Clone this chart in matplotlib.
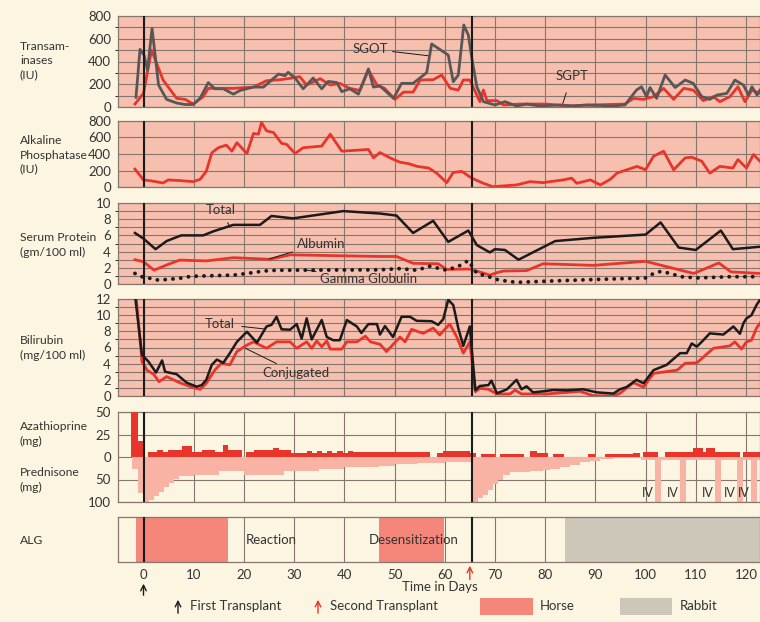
import numpy as np
import matplotlib.pyplot as plt
from matplotlib.patches import Rectangle, FancyArrowPatch

plt.rcParams['font.family'] = ['Lato', 'DejaVu Sans']

# ---- data (day, value) ----
sgot = [(-1.5, 85), (-0.7, 507), (0.1, 457), (0.8, 325), (1.7, 692), (3.0, 193), (4.6, 67),
        (6.6, 35), (8.3, 22), (9.9, 22), (11.3, 80), (12.9, 214), (14.2, 160), (15.9, 160),
        (17.9, 113), (19.2, 145), (21.9, 175), (23.9, 175), (25.2, 225), (26.9, 290), (28.2, 275),
        (28.8, 305), (30.2, 255), (31.8, 160), (33.8, 255), (35.5, 160), (36.8, 225), (38.5, 215),
        (39.5, 135), (41.1, 160), (42.8, 113), (44.8, 335), (45.8, 175), (47.1, 185), (49.8, 76),
        (51.4, 208), (53.7, 208), (56.4, 302), (57.4, 554), (60.7, 457), (61.7, 222), (62.7, 281),
        (63.8, 721), (64.7, 633), (65.4, 428), (66.4, 178), (67.7, 47), (70.0, 18), (72.0, 47),
        (74.3, 9), (76.3, 26), (79.0, 9), (83.0, 18), (85.6, 9), (88.3, 18), (93.6, 9), (95.9, 18),
        (98.2, 149), (99.2, 178), (100.2, 91), (100.9, 171), (102.2, 76), (103.9, 281), (105.9, 171),
        (107.9, 237), (109.5, 208), (111.2, 91), (112.8, 67), (114.2, 105), (116.2, 120),
        (117.8, 237), (119.5, 193), (120.5, 105), (121.2, 178), (122.2, 105), (122.8, 149)]
sgpt = [(-1.7, 26), (0.0, 120), (1.6, 500), (3.9, 237), (6.6, 76), (8.3, 67), (9.9, 26),
        (11.9, 91), (12.9, 164), (14.6, 164), (17.9, 164), (21.9, 175), (24.5, 231), (27.2, 240),
        (29.2, 252), (31.1, 267), (32.5, 193), (35.2, 249), (37.2, 193), (39.1, 208), (41.1, 164),
        (43.1, 146), (44.8, 325), (46.5, 193), (48.0, 164), (50.1, 67), (51.8, 131), (53.7, 131),
        (55.1, 237), (57.7, 240), (59.4, 281), (61.1, 164), (62.7, 149), (63.7, 237), (65.0, 237),
        (66.4, 105), (67.0, 47), (67.7, 149), (68.4, 56), (70.4, 56), (71.7, 18), (75.0, 26),
        (80.3, 26), (84.3, 9), (89.6, 18), (95.9, 26), (97.6, 76), (99.6, 67), (101.6, 91),
        (103.6, 164), (105.6, 67), (107.6, 164), (109.5, 149), (111.5, 56), (113.5, 91),
        (114.8, 47), (116.8, 91), (118.4, 178), (119.8, 47), (121.2, 149), (122.8, 120)]
alk_phos = [(-1.7, 217), (0.0, 86), (1.6, 74), (3.9, 49), (4.9, 86), (7.2, 78), (9.9, 65),
            (11.3, 94), (12.5, 189), (13.6, 414), (14.9, 476), (16.5, 508), (17.6, 434), (18.6, 537),
            (20.6, 406), (21.9, 648), (22.9, 640), (23.5, 783), (24.5, 681), (25.9, 660), (27.5, 529),
            (28.5, 517), (30.2, 406), (31.8, 476), (35.5, 496), (37.2, 640), (39.5, 434), (44.8, 455),
            (45.8, 353), (47.1, 418), (49.1, 353), (51.1, 300), (52.8, 283), (54.5, 250), (56.8, 230),
            (58.4, 168), (60.4, 53), (61.7, 176), (63.4, 189), (65.4, 107), (67.7, 45), (69.6, 4),
            (74.3, 25), (77.0, 65), (79.6, 53), (83.6, 86), (85.3, 107), (86.3, 45), (89.0, 86),
            (91.0, 25), (93.0, 94), (94.3, 168), (96.3, 209), (98.3, 250), (100.0, 209), (101.6, 373),
            (103.6, 434), (105.6, 209), (107.9, 353), (109.2, 361), (111.2, 312), (112.8, 168),
            (114.8, 250), (117.4, 230), (118.4, 332), (120.1, 230), (121.5, 394), (122.8, 312)]
protein_total = [(-1.7, 6.3), (0.0, 5.6), (2.4, 4.3), (4.6, 5.3), (7.5, 6.0), (11.9, 6.0), (13.9, 6.5),
                 (17.9, 7.3), (23.2, 7.3), (25.5, 8.4), (29.8, 8.1), (39.8, 9.0), (47.1, 8.7),
                 (50.4, 8.45), (53.7, 6.3), (57.7, 7.8), (60.7, 5.2), (64.7, 6.6), (66.4, 4.8),
                 (69.0, 3.9), (70.0, 4.3), (72.0, 4.2), (74.7, 3.0), (82.0, 5.3), (89.6, 5.7),
                 (100.0, 6.1), (103.0, 7.6), (106.6, 4.5), (110.0, 4.2), (115.0, 6.6), (117.4, 4.3),
                 (122.8, 4.6)]
albumin = [(-1.7, 3.0), (0.0, 2.75), (2.1, 1.7), (4.6, 2.35), (7.2, 2.95), (12.5, 2.85), (17.9, 3.25),
           (25.2, 3.05), (29.2, 3.6), (47.1, 3.4), (50.4, 3.4), (53.7, 2.55), (58.7, 2.5), (60.4, 1.8),
           (65.0, 1.85), (69.0, 1.1), (70.4, 1.4), (71.7, 1.6), (76.3, 1.65), (79.6, 2.5), (89.6, 2.3),
           (100.0, 2.8), (109.6, 1.3), (114.6, 2.6), (117.0, 1.5), (122.8, 1.3)]
gamma_globulin = [(-1.7, 1.3), (-0.3, 0.9), (1.3, 0.7), (2.6, 0.5), (4.6, 0.55), (7.2, 0.7), (9.5, 0.95),
                  (12.5, 1.0), (17.9, 1.1), (20.6, 1.3), (23.9, 1.6), (26.5, 1.7), (47.1, 1.75),
                  (51.1, 1.9), (54.4, 1.7), (57.1, 2.2), (59.0, 1.9), (60.4, 1.7), (63.1, 2.3),
                  (64.7, 2.9), (66.4, 1.3), (68.4, 1.0), (70.0, 0.6), (72.4, 0.35), (74.3, 0.2),
                  (80.3, 0.35), (89.6, 0.55), (100.0, 0.75), (101.6, 1.3), (103.0, 1.55), (105.0, 1.3),
                  (107.0, 0.9), (110.3, 0.75), (117.0, 0.9), (122.8, 0.9)]
bili_total = [(-1.7, 12.5), (-0.3, 5.1), (1.0, 4.25), (2.5, 2.9), (3.7, 4.4), (4.3, 3.0), (6.6, 2.7),
              (8.6, 1.65), (10.6, 1.15), (11.6, 1.35), (12.5, 2.0), (13.6, 3.85), (14.6, 4.5),
              (15.9, 4.1), (17.2, 5.3), (18.6, 6.7), (20.6, 7.95), (22.6, 6.6), (24.5, 8.6), (25.5, 8.8),
              (26.5, 9.8), (27.5, 8.25), (29.2, 8.2), (30.5, 8.9), (31.5, 7.1), (32.5, 9.6), (33.5, 7.0),
              (35.5, 9.4), (36.5, 7.3), (37.8, 6.9), (39.1, 6.9), (40.5, 9.4), (42.5, 8.6), (43.4, 7.8),
              (44.8, 8.9), (46.5, 8.9), (47.1, 7.6), (48.1, 8.65), (49.7, 7.3), (51.4, 9.8), (53.1, 9.8),
              (54.4, 9.3), (57.4, 9.25), (58.7, 8.8), (59.7, 9.5), (60.7, 11.9), (61.7, 11.25),
              (62.7, 8.4), (63.7, 6.2), (65.0, 8.6), (66.1, 0.74), (67.0, 1.24), (68.7, 1.35),
              (69.3, 1.9), (70.4, 0.33), (72.4, 0.83), (74.3, 2.0), (75.3, 0.83), (76.3, 1.2),
              (77.6, 0.45), (79.6, 0.58), (81.6, 0.74), (84.3, 0.7), (87.6, 0.83), (90.3, 0.45),
              (93.6, 0.3), (94.9, 0.83), (96.2, 1.1), (98.2, 2.0), (99.6, 1.57), (101.6, 3.2),
              (104.2, 3.85), (106.9, 5.3), (108.2, 5.3), (109.2, 6.5), (110.2, 6.1), (111.2, 6.7),
              (112.8, 7.75), (115.5, 7.6), (117.5, 8.6), (118.8, 7.7), (119.5, 9.0), (120.1, 9.6),
              (121.1, 10.0), (122.1, 11.25), (122.8, 11.9)]
bili_conj = [(-1.5, 12.5), (-0.3, 4.25), (0.7, 3.2), (2.0, 2.7), (3.1, 1.77), (4.6, 2.4), (7.2, 1.65),
             (9.9, 1.03), (11.3, 0.83), (12.5, 1.57), (14.2, 3.2), (15.5, 4.05), (17.2, 3.85),
             (18.6, 5.5), (20.6, 6.3), (21.9, 6.7), (24.5, 5.9), (26.5, 6.7), (29.2, 6.7), (30.5, 5.9),
             (32.5, 6.7), (33.5, 5.9), (34.5, 6.8), (35.5, 6.1), (36.5, 6.8), (37.2, 5.8), (39.5, 5.8),
             (40.5, 6.7), (42.5, 6.7), (44.2, 7.4), (45.2, 6.7), (47.1, 6.4), (48.4, 5.5), (51.1, 7.3),
             (52.1, 6.7), (53.4, 8.25), (55.7, 7.75), (57.7, 8.4), (59.0, 7.55), (61.0, 8.9),
             (62.4, 7.3), (63.7, 5.3), (65.0, 6.7), (66.1, 0.53), (67.0, 0.95), (68.7, 0.83),
             (70.4, 0.25), (73.0, 0.25), (74.0, 0.74), (75.3, 0.25), (80.3, 0.25), (86.9, 0.58),
             (89.6, 0.04), (93.6, 0.0), (94.9, 0.33), (97.6, 1.65), (99.6, 1.1), (101.6, 2.8),
             (106.3, 3.2), (107.9, 4.05), (110.2, 4.1), (111.5, 4.8), (113.5, 5.9), (116.8, 6.2),
             (117.8, 6.7), (119.1, 5.8), (120.1, 6.7), (121.1, 6.9), (122.1, 8.4), (122.8, 9.0)]

# drugs: (start day, end day, mg)
azathioprine = [(-2.4, -1.0, 50), (-1.0, 0.0, 18), (0.8, 2.6, 6), (2.6, 3.9, 8), (3.9, 4.9, 6),
                (4.9, 7.6, 8), (7.6, 9.7, 12), (9.7, 11.6, 6), (11.6, 14.2, 8), (14.2, 15.9, 6),
                (15.9, 16.9, 13), (16.9, 19.7, 8), (20.5, 22.0, 6), (22.0, 25.7, 8), (25.7, 27.0, 10),
                (27.0, 29.3, 8), (29.3, 32.6, 5), (32.6, 33.6, 7), (33.6, 34.6, 5), (34.6, 35.6, 7),
                (35.6, 36.6, 5), (36.6, 37.6, 7), (37.6, 38.5, 5), (38.5, 39.8, 7), (39.8, 40.8, 5),
                (40.8, 41.8, 7), (41.8, 57.0, 6), (58.4, 59.7, 5), (59.7, 65.0, 7), (65.0, 66.3, 4),
                (67.3, 70.0, 3), (71.0, 75.7, 3), (77.0, 78.3, 7), (78.3, 80.6, 5), (81.6, 83.7, 3),
                (88.6, 89.9, 3), (91.9, 97.5, 3), (97.5, 98.8, 5), (99.5, 102.5, 6), (103.8, 109.5, 6),
                (109.5, 111.5, 10), (111.5, 112.1, 6), (112.1, 113.8, 10), (113.8, 118.8, 6),
                (119.5, 123.0, 6)]
prednisone = [(-2.3, -1.1, 27), (-1.1, 0.0, 80), (0.0, 1.0, 100), (1.0, 2.0, 96), (2.0, 3.0, 87),
              (3.0, 4.0, 78), (4.0, 5.0, 67), (5.0, 6.0, 57), (6.0, 7.0, 48), (7.0, 10.0, 42),
              (10.0, 15.0, 39), (15.0, 20.0, 32), (20.0, 28.0, 39), (28.0, 35.0, 32), (35.0, 40.0, 27),
              (40.0, 47.0, 23), (47.0, 50.0, 20), (50.0, 54.5, 16), (54.5, 60.0, 14), (60.0, 65.6, 11),
              (65.6, 66.6, 100), (66.6, 67.6, 92), (67.6, 68.6, 85), (68.6, 69.6, 74), (69.6, 70.6, 59),
              (70.6, 71.6, 50), (71.6, 73.0, 41), (73.0, 75.7, 34), (75.7, 77.0, 33), (77.0, 79.6, 30),
              (79.6, 81.0, 28), (81.0, 83.0, 26), (83.0, 85.0, 23), (85.0, 87.0, 18), (87.0, 89.0, 12),
              (89.0, 91.0, 9), (91.0, 93.6, 5), (93.6, 99.0, 3), (99.0, 123.0, 6)]
iv_days = [102.5, 107.5, 114.5, 118.8, 121.7]
iv_mg = 100

horse = [(-1.5, 16.9), (47.0, 59.9)]
rabbit = [(84.0, 124.0)]
first_tx, second_tx = 0, 65.5

# ---- colours ----
CREAM = '#fbf5e2'
PINK = '#f7bfae'
RED = '#e8352b'
GREY = '#5b5656'
BLACK = '#1c1a1a'
GRID = '#85776f'
TXT = '#333333'
PRED = '#f8b3a4'
HORSE = '#f4867a'
RABBIT = '#ccc7b8'

W, H = 760, 622
fig = plt.figure(figsize=(W / 100, H / 100), dpi=100)
fig.patch.set_facecolor(CREAM)
XL = (-5.08, 122.8)


def panel(top, bottom, face):
    ax = fig.add_axes([118 / W, 1 - bottom / H, 1 - 118 / W, (bottom - top) / H])
    ax.set_facecolor(face)
    ax.set_xlim(*XL)
    ax.set_xticks(np.arange(0, 130, 10))
    ax.tick_params(length=0, labelsize=9.5, pad=5, colors=TXT)
    ax.tick_params(axis='x', labelbottom=False)
    ax.grid(True, which='both', color=GRID, lw=0.8)
    ax.set_axisbelow(True)
    for s in ax.spines.values():
        s.set_color(GRID)
        s.set_linewidth(0.9)
    for d in (first_tx, second_tx):
        ax.axvline(d, color=BLACK, lw=1.5, zorder=5)
    return ax


def leader():
    return dict(arrowstyle='-', color=BLACK, lw=0.7, shrinkA=1, shrinkB=0)


# Transaminases
ax1 = panel(16, 107, PINK)
ax1.set_ylim(0, 800)
ax1.set_yticks([0, 200, 400, 600, 800])
ax1.set_yticks(np.arange(100, 800, 200), minor=True)
d, v = np.array(sgpt).T
ax1.plot(d, v, color=RED, lw=2, zorder=3)
d, v = np.array(sgot).T
ax1.plot(d, v, color=GREY, lw=2, zorder=4)
ax1.annotate('SGOT', xy=(56.8, 450), xytext=(48.8, 510), fontsize=9.5, va='center', ha='right',
             color=TXT, arrowprops=leader())
ax1.annotate('SGPT', xy=(83.5, 30), xytext=(85.3, 272), fontsize=9.5, va='center', ha='center',
             color=TXT, arrowprops=dict(leader(), shrinkA=6))

# Alkaline phosphatase
ax2 = panel(121, 187, PINK)
ax2.set_ylim(0, 800)
ax2.set_yticks([0, 200, 400, 600, 800])
d, v = np.array(alk_phos).T
ax2.plot(d, v, color=RED, lw=2, zorder=3)

# Serum protein
ax3 = panel(203, 284, PINK)
ax3.set_ylim(0, 10)
ax3.set_yticks([0, 2, 4, 6, 8, 10])
ax3.set_yticks(np.arange(1, 10, 2), minor=True)
d, v = np.array(protein_total).T
ax3.plot(d, v, color=BLACK, lw=1.8, zorder=4)
d, v = np.array(albumin).T
ax3.plot(d, v, color=RED, lw=2, zorder=3)
d, v = np.array(gamma_globulin).T
ax3.plot(d, v, color=BLACK, lw=2.8, linestyle=(0, (0.01, 2.0)), dash_capstyle='round', zorder=4)
ax3.annotate('Total', xy=(17.2, 7.1), xytext=(15.3, 9.1), fontsize=9.5, ha='center', va='center',
             color=TXT, arrowprops=dict(leader(), shrinkA=3))
ax3.annotate('Albumin', xy=(25, 3.1), xytext=(30.5, 5.0), fontsize=9.5, ha='left', va='center',
             color=TXT, arrowprops=leader())
ax3.annotate('Gamma Globulin', xy=(32, 1.75), xytext=(35.2, 0.6), fontsize=9.5, ha='left',
             va='center', color=TXT, arrowprops=leader())

# Bilirubin
ax4 = panel(299, 396, PINK)
ax4.set_ylim(0, 12)
ax4.set_yticks(np.arange(0, 13, 2))
ax4.set_yticks(np.arange(1, 12, 2), minor=True)
d, v = np.array(bili_conj).T
ax4.plot(d, v, color=RED, lw=2, zorder=3)
d, v = np.array(bili_total).T
ax4.plot(d, v, color=BLACK, lw=1.8, zorder=4)
ax4.annotate('Total', xy=(24, 8.3), xytext=(15.2, 8.9), fontsize=9.5, ha='center', va='center',
             color=TXT, arrowprops=dict(leader(), shrinkA=3))
ax4.annotate('Conjugated', xy=(20.3, 5.9), xytext=(23.6, 2.85), fontsize=9.5, ha='left',
             va='center', color=TXT, arrowprops=leader())

# Azathioprine (up, 25 mg per unit) / Prednisone (down, 50 mg per unit)
ax5 = panel(412, 502, CREAM)
ax5.set_ylim(-2, 2)
ax5.set_yticks([2, 1, 0, -1, -2])
ax5.set_yticklabels(['50', '25', '0', '50', '100'])
for a, b, mg in prednisone:
    ax5.fill_between([a, b], 0, -mg / 50, color=PRED, lw=0, zorder=2)
for d in iv_days:
    ax5.fill_between([d - 0.6, d + 0.6], 0, -iv_mg / 50, color=PRED, lw=0, zorder=2)
for a, b, mg in azathioprine:
    ax5.fill_between([a, b], 0, min(mg, 50) / 25, color=RED, lw=0, zorder=3)
for d in iv_days:
    ax5.text(d - 0.9, -1.62, 'IV', fontsize=9, ha='right', va='center', color=TXT)

# ALG
ax6 = panel(517, 562, CREAM)
ax6.set_ylim(0, 1)
ax6.set_yticks([])
ax6.tick_params(axis='x', labelbottom=True, pad=5)
for a, b in horse:
    ax6.axvspan(a, b, color=HORSE, lw=0, zorder=1)
for a, b in rabbit:
    ax6.axvspan(a, b, color=RABBIT, lw=0, zorder=1)
ax6.text(20.3, 0.5, 'Reaction', fontsize=9.5, va='center', ha='left', color=TXT, zorder=6)
ax6.text(53.8, 0.5, 'Desensitization', fontsize=9.5, va='center', ha='center', color=TXT, zorder=6)

# transplant arrows below the axis
ax6.annotate('', xy=(first_tx, -0.42), xytext=(first_tx, -0.8),
             xycoords=ax6.get_xaxis_transform(),
             arrowprops=dict(arrowstyle='->', color=BLACK, lw=1.0))
ax6.annotate('', xy=(second_tx - 0.5, -0.02), xytext=(second_tx - 0.5, -0.45),
             xycoords=ax6.get_xaxis_transform(),
             arrowprops=dict(arrowstyle='->', color=RED, lw=1.0))
fig.text(440 / W, 1 - 587 / H, 'Time in Days', fontsize=9.5, ha='center', va='center', color=TXT)

# left labels
labels = [('Transam-\ninases\n(IU)', 61), ('Alkaline\nPhosphatase\n(IU)', 155),
          ('Serum Protein\n(gm/100 ml)', 245), ('Bilirubin\n(mg/100 ml)', 348),
          ('Azathioprine\n(mg)', 434), ('Prednisone\n(mg)', 480), ('ALG', 540)]
for txt, y in labels:
    fig.text(20 / W, 1 - y / H, txt, fontsize=8.7, ha='left', va='center', color=TXT,
             linespacing=1.35)

# legend
ly = 1 - 606 / H
fig.patches.append(Rectangle((480 / W, 1 - 615 / H), 53 / W, 17 / H, transform=fig.transFigure,
                             color=HORSE, lw=0))
fig.patches.append(Rectangle((620 / W, 1 - 615 / H), 52 / W, 17 / H, transform=fig.transFigure,
                             color=RABBIT, lw=0))
fig.text(540 / W, ly, 'Horse', fontsize=9.5, va='center', color=TXT)
fig.text(680 / W, ly, 'Rabbit', fontsize=9.5, va='center', color=TXT)
fig.text(190 / W, ly, 'First Transplant', fontsize=9.5, va='center', color=TXT)
fig.text(330 / W, ly, 'Second Transplant', fontsize=9.5, va='center', color=TXT)
for x, c in ((178, BLACK), (318, RED)):
    fig.patches.append(FancyArrowPatch((x / W, 1 - 616 / H), (x / W, 1 - 597 / H),
                                       transform=fig.transFigure, arrowstyle='->',
                                       mutation_scale=10, color=c, lw=1.0))

fig.savefig('out.png', dpi=100, facecolor=CREAM)
